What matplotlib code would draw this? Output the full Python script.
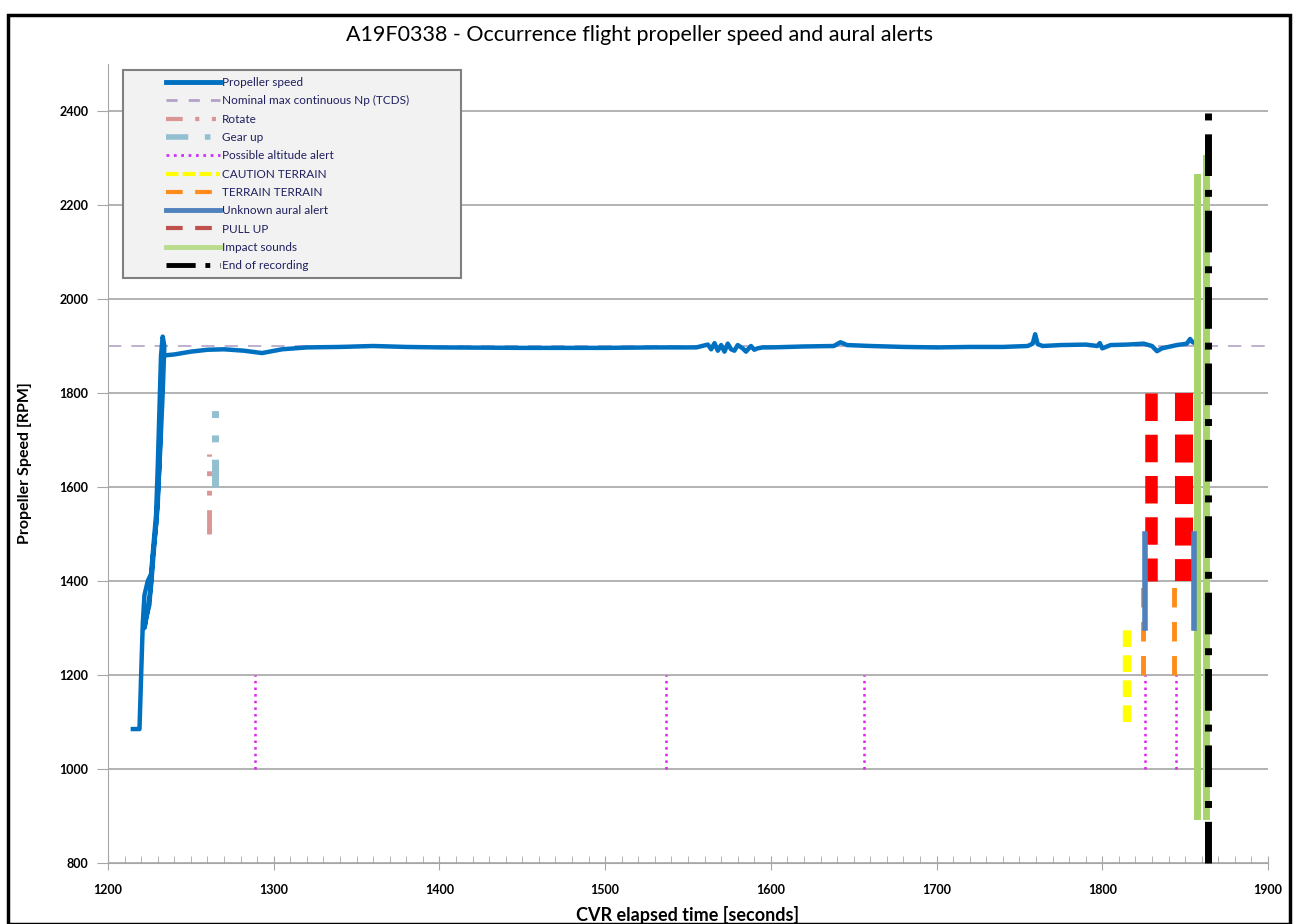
import numpy as np
import matplotlib.pyplot as plt
from matplotlib.lines import Line2D
from matplotlib.patches import Rectangle

plt.rcParams['font.family'] = ['Lato', 'DejaVu Sans']

# propeller speed trace (CVR time [s], RPM)
prop_t = [1215, 1219, 1220, 1221, 1222, 1224, 1226, 1228, 1229, 1230, 1231, 1232, 1233, 1234,
          1233, 1231, 1229, 1227, 1225, 1223, 1222, 1224, 1226, 1228, 1230, 1231.5, 1232.5, 1234,
          1240, 1250, 1260, 1270, 1282, 1293, 1305, 1320, 1340, 1360, 1380, 1400, 1450, 1500,
          1530, 1555, 1562, 1564, 1566, 1568, 1570, 1572, 1574, 1576, 1578, 1580, 1583, 1585,
          1588, 1590, 1592, 1595, 1600, 1620, 1638, 1642, 1646, 1660, 1680, 1700, 1720, 1740,
          1755, 1758, 1759.5, 1761, 1764, 1775, 1790, 1797, 1798.5, 1800, 1805, 1815, 1825,
          1830, 1833, 1836, 1845, 1851, 1853, 1854.5, 1857]
prop_rpm = [1085, 1085, 1200, 1310, 1370, 1400, 1415, 1500, 1540, 1640, 1760, 1880, 1920, 1900,
            1800, 1640, 1520, 1450, 1350, 1320, 1300, 1340, 1390, 1480, 1560, 1700, 1870, 1880,
            1882, 1888, 1892, 1893, 1890, 1885, 1893, 1897, 1898, 1900, 1898, 1897, 1896, 1896,
            1897, 1897, 1903, 1893, 1906, 1890, 1902, 1888, 1905, 1893, 1890, 1902, 1895, 1888,
            1900, 1892, 1895, 1897, 1897, 1899, 1900, 1908, 1902, 1900, 1898, 1897, 1898, 1898,
            1900, 1905, 1925, 1904, 1900, 1902, 1903, 1900, 1906, 1895, 1902, 1903, 1905,
            1900, 1889, 1895, 1902, 1905, 1915, 1908, 1905]

nominal_np = 1900

rotate_x, rotate_y = 1261, (1500, 1670)
gearup_x, gearup_y = 1264.5, (1600, 1770)
alt_alert_x = [1289, 1537, 1656, 1825.5, 1844.5]
alt_alert_y = (1000, 1200)
caution_x, caution_y = 1815, (1100, 1300)
terrain_x, terrain_y = [1824.5, 1843.5], (1200, 1400)
unknown_x, unknown_y = [1826, 1855.5], (1300, 1500)
pullup_x, pullup_y = [1829.5, 1849.5], (1400, 1800)
impact_x = [1857, 1862.5]
impact_y = [(900, 2260), (900, 2300)]
end_x, end_y = 1864, (800, 2410)

fig = plt.figure(figsize=(12.98, 9.24), dpi=100)
ax = fig.add_axes([108 / 1298, 1 - 863 / 924, (1268 - 108) / 1298, (863 - 64) / 924])

# outer frame
fig.patches.append(Rectangle((8 / 1298, 0), 1282 / 1298, 1 - 15 / 924, transform=fig.transFigure,
                             fill=False, edgecolor='black', lw=2.5, zorder=10))

ax.set_xlim(1200, 1900)
ax.set_ylim(800, 2500)
ax.set_yticks(np.arange(800, 2401, 200))
ax.set_xticks(np.arange(1200, 1901, 100))
ax.set_xticks(np.arange(1200, 1901, 10), minor=True)
ax.grid(axis='y', color='#a6a6a6', lw=1.2)
ax.set_axisbelow(True)
for s in ['top', 'right']:
    ax.spines[s].set_visible(False)
for s in ['left', 'bottom']:
    ax.spines[s].set_color('#a6a6a6')
ax.tick_params(axis='y', length=8, color='#a6a6a6', labelsize=9, pad=6)
ax.tick_params(axis='x', which='major', direction='inout', length=10, color='#a6a6a6', labelsize=9, pad=10)
ax.tick_params(axis='x', which='minor', direction='in', length=5, color='#a6a6a6')
for lab in ax.get_xticklabels() + ax.get_yticklabels():
    lab.set_fontweight('bold')

ax.plot([1200, 1900], [nominal_np, nominal_np], color='#b3a2c7', lw=1.2, dashes=(8, 6), zorder=2)
ax.plot(prop_t, prop_rpm, color='#0070c0', lw=3.2, zorder=3)

ax.plot([rotate_x, rotate_x], rotate_y, color='#d99694', lw=3.5, dashes=(5, 3, 1, 3, 1, 3), zorder=4)
ax.plot([gearup_x, gearup_x], gearup_y, color='#93c0d0', lw=5, dashes=(4, 2.5, 1, 2.5, 1, 2.5), zorder=4)
for x in alt_alert_x:
    ax.plot([x, x], alt_alert_y, color='#e020f0', lw=1.8, ls=':', zorder=4)
ax.plot([caution_x, caution_x], caution_y, color='#ffff00', lw=6, dashes=(2, 1), zorder=4)
for x in terrain_x:
    ax.plot([x, x], terrain_y, color='#ff8c1a', lw=3.5, dashes=(4, 3), zorder=4)
ax.plot([pullup_x[0], pullup_x[0]], pullup_y[::-1], color='#ff0000', lw=9, dashes=(2.2, 1.1), zorder=4)
ax.plot([pullup_x[1], pullup_x[1]], pullup_y[::-1], color='#ff0000', lw=13, dashes=(1.55, 0.75), zorder=4)
for x, (y0, y1) in zip(impact_x, impact_y):
    ax.plot([x, x], [y0, y1], color='#a6d46a', lw=5, zorder=5)
for x in unknown_x:
    ax.plot([x, x], unknown_y, color='#4f81bd', lw=4, zorder=5.5)
ax.plot([end_x, end_x], end_y, color='black', lw=5, dashes=(6, 2, 1, 2), zorder=6, clip_on=False)

# legend box drawn by hand so the handles can sit indented like the original
box_x0, box_y0, box_x1, box_y1 = 123, 70, 461, 278
ax.add_patch(Rectangle(((box_x0 - 108) / 1160, (863 - box_y1) / 799),
                       (box_x1 - box_x0) / 1160, (box_y1 - box_y0) / 799,
                       transform=ax.transAxes, facecolor='#f2f2f2', edgecolor='#808080',
                       lw=1.5, zorder=7))

handles = [
    Line2D([], [], color='#0070c0', lw=3.5),
    Line2D([], [], color='#b3a2c7', lw=2, dashes=(4, 4)),
    Line2D([], [], color='#d99694', lw=3, dashes=(4, 3, 1, 3, 1, 3)),
    Line2D([], [], color='#93c0d0', lw=4, dashes=(4, 3, 1, 3, 1, 3)),
    Line2D([], [], color='#cc33ff', lw=2, ls=':'),
    Line2D([], [], color='#ffff00', lw=3, dashes=(3, 1)),
    Line2D([], [], color='#ff8c1a', lw=3, dashes=(4, 3)),
    Line2D([], [], color='#4f81bd', lw=3.5),
    Line2D([], [], color='#c0504d', lw=3, dashes=(4, 3)),
    Line2D([], [], color='#b8dc8c', lw=3.5),
    Line2D([], [], color='black', lw=3.5, dashes=(6, 2, 1, 2)),
]
labels = ['Propeller speed', 'Nominal max continuous Np (TCDS)', 'Rotate', 'Gear up',
          'Possible altitude alert', 'CAUTION TERRAIN', 'TERRAIN TERRAIN', 'Unknown aural alert',
          'PULL UP', 'Impact sounds', 'End of recording']
leg = ax.legend(handles, labels, loc='upper left',
                bbox_to_anchor=((166 - 108) / 1160, (863 - 77) / 799),
                fontsize=8.5, handlelength=4.6, handletextpad=0.15, labelspacing=0.62,
                frameon=False, borderpad=0, borderaxespad=0)
leg.set_zorder(8)
for t in leg.get_texts():
    t.set_color('#1f1f5f')

fig.text(640 / 1298, 1 - 35 / 924, 'A19F0338 - Occurrence flight propeller speed and aural alerts',
         ha='center', va='center', fontsize=15.5)
ax.set_xlabel('CVR elapsed time [seconds]', fontsize=13, fontweight='bold', labelpad=7)
ax.set_ylabel('Propeller Speed [RPM]', fontsize=11.5, fontweight='bold', labelpad=20)

fig.savefig('out.png', dpi=100)
